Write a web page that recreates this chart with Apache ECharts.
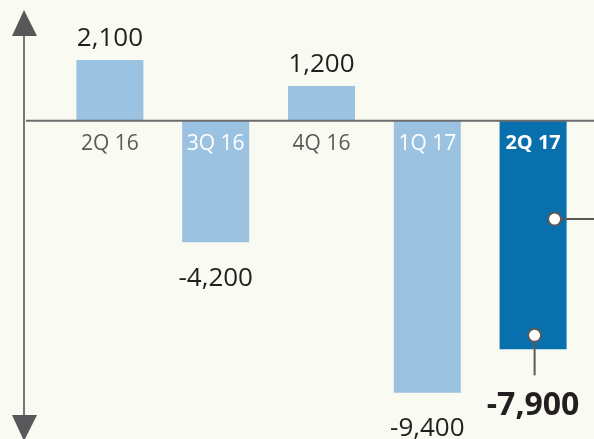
<!DOCTYPE html>
<html lang="en">
<head>
<meta charset="UTF-8">
<title>Quarterly result</title>
<script src="https://cdn.jsdelivr.net/npm/echarts@6/dist/echarts.min.js"></script>
<style>
    html, body {margin: 0; padding: 0; background: #f9faf1;}
    #chart {width: 594px; height: 439px;}
</style>
</head>
<body>
<div id="chart"></div>
<script type="text/javascript">
    var quarters = ['2Q 16', '3Q 16', '4Q 16', '1Q 17', '2Q 17'];
    var values = [2100, -4200, 1200, -9400, -7900];
    var current = '2Q 17';

    var LIGHT = '#9cc2e1', DARK = '#0970ae', INK = '#231f20', GREY = '#58585a';
    var FONT = '"Open Sans", sans-serif';

    var chart = echarts.init(document.getElementById('chart'));

    var barData = values.map(function (v, i) {
        var hot = quarters[i] === current;
        return {
            value: v,
            itemStyle: {color: hot ? DARK : LIGHT},
            label: {
                position: v < 0 ? 'bottom' : 'top',
                distance: hot ? 41 : (v < 0 ? 23 : 8),
                fontSize: hot ? 32 : 26,
                fontWeight: hot ? 'bold' : 'normal'
            }
        };
    });

    // the quarter names hang just under the zero line, on top of the bars
    var nameData = quarters.map(function (q, i) {
        var hot = q === current;
        return {
            value: 0,
            name: q,
            label: {
                color: values[i] < 0 ? '#ffffff' : '#5a5a5a',
                fontWeight: hot ? 'bold' : 'normal',
                fontSize: hot ? 20 : 21
            }
        };
    });

    var option = {
        backgroundColor: '#f9faf1',
        animation: false,
        grid: {left: 57, right: 8, top: 5, bottom: 0, outerBoundsMode: 'none'},
        xAxis: {
            type: 'category',
            data: quarters,
            axisLine: {show: false},
            axisTick: {show: false},
            axisLabel: {show: false}
        },
        yAxis: {
            type: 'value',
            min: -11000,
            max: 4000,
            show: false,
            splitLine: {show: false}
        },
        series: [{
            type: 'bar',
            barWidth: 67,
            data: barData,
            label: {
                show: true,
                color: INK,
                fontFamily: FONT,
                formatter: function (p) {
                    return echarts.format.addCommas(p.value);
                }
            }
        }, {
            type: 'bar',
            barWidth: 67,
            barGap: '-100%',
            silent: true,
            data: nameData,
            label: {
                show: true,
                position: 'bottom',
                distance: 13,
                fontFamily: FONT,
                formatter: '{b}'
            }
        }]
    };
    chart.setOption(option);

    // axis decorations and the two callout pins on the current quarter
    var zeroY = chart.convertToPixel({yAxisIndex: 0}, 0);
    var idx = quarters.indexOf(current);
    var base = chart.convertToPixel({seriesIndex: 0}, [current, 0]);
    var end = chart.convertToPixel({seriesIndex: 0}, [current, values[idx]]);
    var cx = base[0];
    var pinA = [cx + 21.5, base[1] + (end[1] - base[1]) * 0.43];
    var pinB = [cx + 1.5, end[1] - 14];
    var pinStyle = {fill: '#ffffff', stroke: '#5a5a5a', lineWidth: 2};
    var lineStyle = {stroke: '#5a5a5a', lineWidth: 2};

    chart.setOption({
        graphic: [
            {type: 'line', z: 100, shape: {x1: 24, y1: 30, x2: 24, y2: 420}, style: {stroke: '#777777', lineWidth: 2}},
            {type: 'polygon', z: 100, shape: {points: [[24, 10], [12, 36], [37, 36]]}, style: {fill: GREY}},
            {type: 'polygon', z: 100, shape: {points: [[12, 415], [37, 415], [24, 441]]}, style: {fill: GREY}},
            {type: 'line', z: 100, shape: {x1: 26, y1: zeroY, x2: 594, y2: zeroY}, style: {stroke: '#6d6d6d', lineWidth: 2}},
            {type: 'line', z: 100, shape: {x1: pinA[0], y1: pinA[1], x2: 594, y2: pinA[1]}, style: lineStyle},
            {type: 'circle', z: 101, shape: {cx: pinA[0], cy: pinA[1], r: 6.5}, style: pinStyle},
            {type: 'line', z: 100, shape: {x1: pinB[0], y1: pinB[1], x2: pinB[0], y2: end[1] + 26}, style: lineStyle},
            {type: 'circle', z: 101, shape: {cx: pinB[0], cy: pinB[1], r: 6.5}, style: pinStyle}
        ]
    });
</script>
</body>
</html>
